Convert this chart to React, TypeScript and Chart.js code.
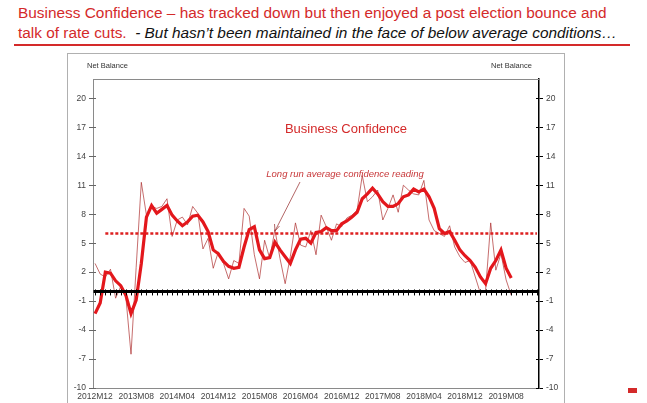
import React, { useEffect, useRef } from "react";
import { Chart, registerables } from "chart.js";

Chart.register(...registerables);

// Month index 0 = 2012M12
const monthlyReading = [2.9, 1.8, 1.5, 2.3, -0.7, 0.5, -0.6, -6.5, 2.5, 11.3, 7.9, 8.8, 8.6, 8.8, 9.6, 5.7, 7.4, 7.7, 6.9, 8.8, 8.1, 4.4, 5.5, 2.4, 4.1, 2.9, 1.3, 3.2, 2.9, 8.6, 7.8, 3.8, 1.3, 5.3, 3.4, 6.4, 3.4, 0.8, 3.6, 7.1, 4.8, 4.6, 6.3, 3.8, 7.9, 6.7, 5.3, 7.0, 6.7, 7.6, 7.9, 8.4, 12.0, 9.3, 9.8, 10.5, 7.4, 8.6, 10.0, 8.2, 11.0, 10.5, 10.1, 10.0, 11.5, 7.4, 6.3, 6.0, 5.7, 6.8, 4.6, 3.6, 3.0, 3.2, 1.5, -0.2, 0.1, 7.1, 2.2, 3.9, 1.2, -0.4];
const smoothedReading = [-2.3, -1.2, 2.0, 1.9, 1.1, 0.6, -0.4, -2.3, -0.9, 2.9, 7.7, 8.9, 8.1, 8.5, 8.9, 7.9, 7.3, 6.8, 7.2, 7.8, 7.9, 7.2, 6.2, 4.3, 3.9, 3.1, 2.6, 2.4, 2.5, 4.6, 6.4, 6.7, 4.3, 3.4, 3.5, 5.1, 4.3, 3.6, 2.9, 4.3, 5.4, 5.5, 5.0, 6.1, 6.2, 6.6, 6.3, 6.3, 7.0, 7.3, 7.7, 8.2, 9.6, 10.1, 10.7, 10.1, 9.3, 8.8, 8.8, 9.1, 9.8, 10.0, 10.6, 10.3, 10.6, 9.8, 8.6, 6.5, 6.0, 6.2, 5.3, 4.3, 3.7, 3.2, 2.5, 1.5, 0.8, 2.4, 3.2, 4.3, 2.4, 1.4];
const longRunAverage = 6;
const averageSpan = [2, 86];
const zeroSpan = [-0.3, 86.4];
const xTickPositions = [0, 8, 16, 24, 32, 40, 48, 56, 64, 72, 80];
const xTickLabels = ["2012M12", "2013M08", "2014M04", "2014M12", "2015M08", "2016M04", "2016M12", "2017M08", "2018M04", "2018M12", "2019M08"];
const yTicks = [-10, -7, -4, -1, 2, 5, 8, 11, 14, 17, 20];
const monthTickCount = 87;

const FONT = '"Liberation Sans", Arial, sans-serif';

const overlayPlugin = {
  id: "overlay",
  afterDatasetsDraw(chart: any) {
    const { ctx, chartArea, scales } = chart;
    const x = scales.x;
    const y = scales.y;
    ctx.save();
    // top border
    ctx.strokeStyle = "#8a8a8a";
    ctx.lineWidth = 1;
    ctx.beginPath();
    ctx.moveTo(chartArea.left, chartArea.top + 0.5);
    ctx.lineTo(chartArea.right, chartArea.top + 0.5);
    ctx.stroke();
    // monthly ticks on zero line
    const y0 = y.getPixelForValue(0);
    ctx.strokeStyle = "#000";
    ctx.lineWidth = 1;
    for (let i = 0; i < monthTickCount; i++) {
      const px = Math.round(x.getPixelForValue(i)) + 0.5;
      ctx.beginPath();
      ctx.moveTo(px, y0 - 2);
      ctx.lineTo(px, y0 + 4);
      ctx.stroke();
    }
    // inner ticks on y axes
    yTicks.forEach((v) => {
      const py = Math.round(y.getPixelForValue(v)) + 0.5;
      ctx.strokeStyle = "#666";
      ctx.beginPath();
      ctx.moveTo(chartArea.left, py);
      ctx.lineTo(chartArea.left + 3, py);
      ctx.stroke();
      ctx.strokeStyle = "#000";
      ctx.beginPath();
      ctx.moveTo(chartArea.right - 3, py);
      ctx.lineTo(chartArea.right, py);
      ctx.stroke();
    });
    // annotations
    ctx.fillStyle = "#d42a2a";
    ctx.font = `13px ${FONT}`;
    ctx.textAlign = "center";
    ctx.textBaseline = "middle";
    ctx.fillText("Business Confidence", 346, 129);
    ctx.font = `italic 9.5px ${FONT}`;
    ctx.fillStyle = "#c8383a";
    ctx.fillText("Long run average confidence reading", 345, 174);
    // arrow
    ctx.strokeStyle = "#a04040";
    ctx.lineWidth = 0.8;
    ctx.beginPath();
    ctx.moveTo(300, 182);
    ctx.lineTo(275, 231);
    ctx.stroke();
    ctx.beginPath();
    ctx.moveTo(275, 231);
    ctx.lineTo(274.5, 224);
    ctx.moveTo(275, 231);
    ctx.lineTo(279.5, 226);
    ctx.stroke();
    // net balance labels
    ctx.fillStyle = "#333";
    ctx.font = `7.5px ${FONT}`;
    ctx.textAlign = "left";
    ctx.fillText("Net Balance", 87, 66);
    ctx.fillText("Net Balance", 491, 66);
    ctx.restore();
  },
};

function App() {
  const ref = useRef<HTMLCanvasElement | null>(null);
  useEffect(() => {
    if (!ref.current) return;
    const chart = new Chart(ref.current, {
      type: "line",
      data: {
        datasets: [
          {
            data: zeroSpan.map((v) => ({ x: v, y: 0 })),
            borderColor: "#000",
            borderWidth: 3,
            pointRadius: 0,
            yAxisID: "y",
          },
          {
            data: smoothedReading.map((v, i) => ({ x: i, y: v })),
            borderColor: "#e3171c",
            borderWidth: 3.2,
            pointRadius: 0,
            tension: 0,
            yAxisID: "y",
          },
          {
            data: averageSpan.map((v) => ({ x: v, y: longRunAverage })),
            borderColor: "#dd2020",
            borderWidth: 2.5,
            borderDash: [3, 2],
            pointRadius: 0,
            yAxisID: "y",
          },
          {
            data: monthlyReading.map((v, i) => ({ x: i, y: v })),
            borderColor: "rgba(170,40,40,0.85)",
            borderWidth: 0.8,
            pointRadius: 0,
            tension: 0,
            yAxisID: "y",
          },
        ],
      },
      options: {
        animation: false,
        responsive: false,
        layout: { padding: { top: 79, left: 0, right: 0, bottom: 0 } },
        plugins: { legend: { display: false }, tooltip: { enabled: false } },
        scales: {
          x: {
            type: "linear",
            min: -0.4,
            max: 86.4,
            afterBuildTicks: (s: any) => {
              s.ticks = xTickPositions.map((v) => ({ value: v }));
            },
            afterFit: (s: any) => {
              s.height = 15;
            },
            ticks: {
              autoSkip: false,
              maxRotation: 0,
              padding: 4,
              color: "#444",
              font: { family: FONT, size: 8.5 },
              callback: (v: any) => xTickLabels[xTickPositions.indexOf(v)],
            },
            grid: { drawOnChartArea: false, drawTicks: false },
            border: { color: "#8a8a8a", width: 1 },
          },
          y: {
            position: "left",
            min: -10,
            max: 22,
            afterBuildTicks: (s: any) => {
              s.ticks = yTicks.map((v) => ({ value: v }));
            },
            afterFit: (s: any) => {
              s.width = 93;
            },
            ticks: { color: "#444", padding: 3, font: { family: FONT, size: 8.5 } },
            grid: { drawOnChartArea: false, tickLength: 4, color: "#666" },
            border: { color: "#8a8a8a", width: 1 },
          },
          y2: {
            position: "right",
            min: -10,
            max: 22,
            afterBuildTicks: (s: any) => {
              s.ticks = yTicks.map((v) => ({ value: v }));
            },
            afterFit: (s: any) => {
              s.width = 108;
            },
            ticks: { color: "#444", padding: 3, font: { family: FONT, size: 8.5 } },
            grid: { drawOnChartArea: false, tickLength: 4, color: "#000" },
            border: { color: "#000", width: 1.5 },
          },
        },
      },
      plugins: [overlayPlugin],
    } as any);
    return () => chart.destroy();
  }, []);

  return (
    <div style={{ position: "fixed", left: 0, top: 0, width: 647, height: 403, background: "#fff", overflow: "hidden" }}>
      <div
        style={{
          position: "absolute",
          left: 18,
          top: 3,
          fontFamily: FONT,
          fontSize: 15.4,
          lineHeight: "20px",
          color: "#d42a2a",
          whiteSpace: "nowrap",
        }}
      >
        <div>Business Confidence – has tracked down but then enjoyed a post election bounce and</div>
        <div>
          talk of rate cuts.{" "}
          <span style={{ color: "#111", fontStyle: "italic" }}>&nbsp;- But hasn’t been maintained in the face of below average conditions…</span>
        </div>
      </div>
      <div style={{ position: "absolute", left: 14, top: 44, width: 616, height: 1.5, background: "#d42a2a" }} />
      <div style={{ position: "absolute", left: 67, top: 53, width: 496, height: 400, border: "1px solid #b0b0b0" }} />
      <div style={{ position: "absolute", left: 628, top: 388, width: 9, height: 5, background: "#d42a2a" }} />
      <canvas ref={ref} width={647} height={403} style={{ position: "absolute", left: 0, top: 0 }} />
    </div>
  );
}

export default App;
